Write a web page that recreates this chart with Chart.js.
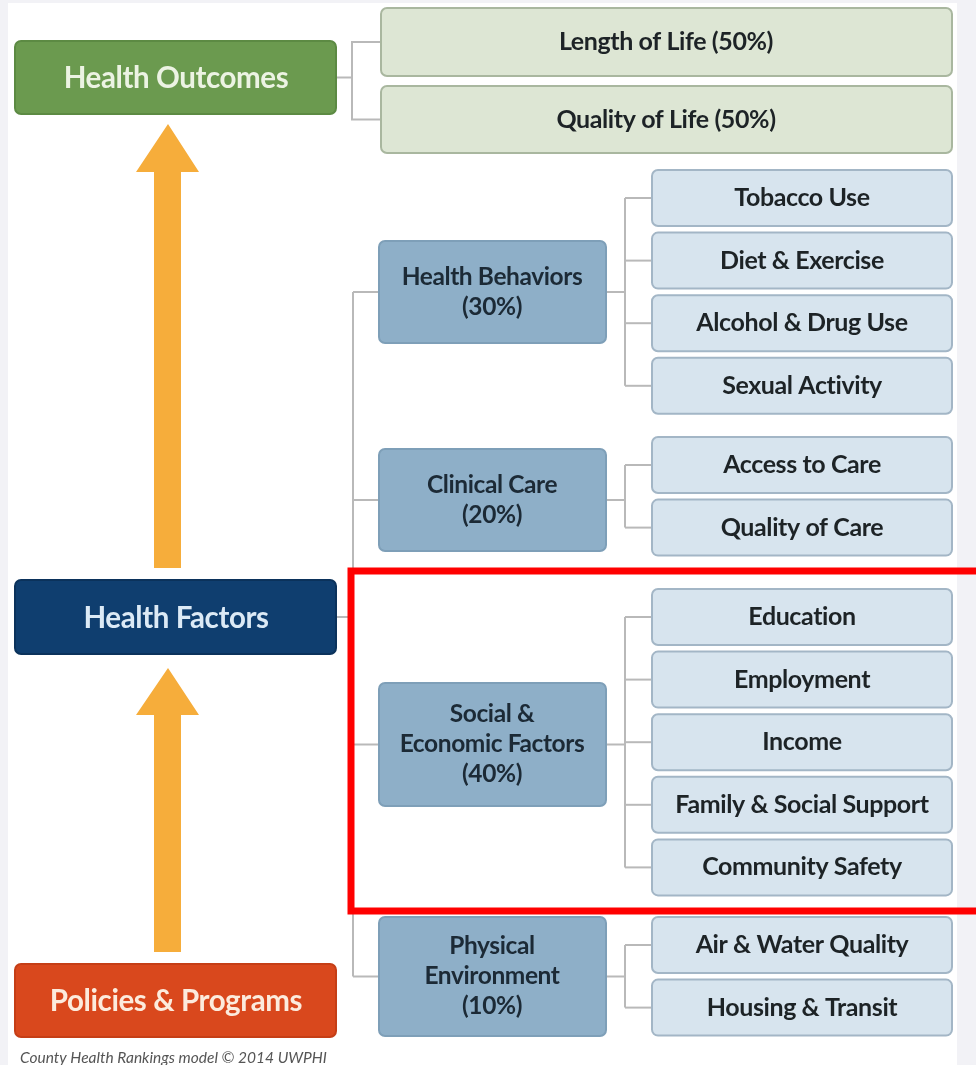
<!DOCTYPE html>
<html>
<head>
<meta charset="utf-8">
<script src="https://cdn.jsdelivr.net/npm/chart.js@4.4.1/dist/chart.umd.min.js"></script>
<style>
  html, body { margin: 0; padding: 0; background: #f2f2f6; }
  #wrap { width: 976px; height: 1065px; }
</style>
</head>
<body>
<div id="wrap"><canvas id="chart-1" width="976" height="1065"></canvas></div>
<script>
// MODEL DATA
const tiers = ['Health Outcomes', 'Health Factors', 'Policies & Programs'];

const outcomes = ['Length of Life', 'Quality of Life'];
const outcomeWeights = [50, 50];

const factors = [
  ['Health Behaviors'],
  ['Clinical Care'],
  ['Social &', 'Economic Factors'],
  ['Physical', 'Environment']
];
const factorWeights = [30, 20, 40, 10];

const behaviorItems = ['Tobacco Use', 'Diet & Exercise', 'Alcohol & Drug Use', 'Sexual Activity'];
const clinicalItems = ['Access to Care', 'Quality of Care'];
const socialItems = ['Education', 'Employment', 'Income', 'Family & Social Support', 'Community Safety'];
const environmentItems = ['Air & Water Quality', 'Housing & Transit'];

const footnote = 'County Health Rankings model \u00a9 2014 UWPHI';

// layout (diagram units == pixels of the 976x1065 frame)
const factorItems = [behaviorItems, clinicalItems, socialItems, environmentItems];
const tierY = [[41, 114], [580, 654], [964, 1037]];
const tierColors = [
  { fill: '#6b9a4f', stroke: '#5c8a43', text: '#ecf3e3' },
  { fill: '#0f3e6f', stroke: '#0b325b', text: '#dceaf6' },
  { fill: '#d9481d', stroke: '#c53e16', text: '#fcebdd' }
];
const outcomeY = [[8, 76], [86, 153]];
const factorY = [[241, 343], [449, 551], [683, 806], [917, 1036]];
const itemStart = [170, 437, 589, 917];
const itemPitch = 62.6;
const itemH = 56;

const FONT = 'Lato, "Open Sans", sans-serif';

function roundBox(ctx, x0, y0, x1, y1, r, fill, stroke) {
  ctx.beginPath();
  ctx.roundRect(x0, y0, x1 - x0, y1 - y0, r);
  ctx.fillStyle = fill;
  ctx.fill();
  if (stroke) {
    ctx.lineWidth = 2;
    ctx.strokeStyle = stroke;
    ctx.stroke();
  }
}

function label(ctx, lines, cx, cy, size, color, lh) {
  ctx.font = 'bold ' + size + 'px ' + FONT;
  ctx.fillStyle = color;
  ctx.textAlign = 'center';
  ctx.textBaseline = 'middle';
  ctx.letterSpacing = '-0.4px';
  const top = cy - (lines.length - 1) * lh / 2;
  lines.forEach((t, i) => ctx.fillText(t, cx, top + i * lh));
  ctx.letterSpacing = '0px';
}

const diagramPlugin = {
  id: 'diagram',
  beforeDraw(chart) {
    const ctx = chart.ctx;
    const sx = chart.scales.x, sy = chart.scales.y;
    const X = v => sx.getPixelForValue(v);
    const Y = v => sy.getPixelForValue(v);

    ctx.save();
    // page
    ctx.fillStyle = '#f2f2f6';
    ctx.fillRect(0, 0, chart.width, chart.height);
    ctx.fillStyle = '#ffffff';
    ctx.fillRect(X(8), Y(3), X(957) - X(8), Y(1065) - Y(3));

    // connectors
    ctx.strokeStyle = '#b9b9b9';
    ctx.lineWidth = 2;
    const line = pts => {
      ctx.beginPath();
      pts.forEach((p, i) => i ? ctx.lineTo(X(p[0]), Y(p[1])) : ctx.moveTo(X(p[0]), Y(p[1])));
      ctx.stroke();
    };
    const oc = outcomeY.map(r => (r[0] + r[1]) / 2);
    line([[336, (tierY[0][0] + tierY[0][1]) / 2], [352, (tierY[0][0] + tierY[0][1]) / 2]]);
    line([[381, oc[0]], [352, oc[0]], [352, oc[1]], [381, oc[1]]]);

    const fc = factorY.map(r => (r[0] + r[1]) / 2);
    line([[336, (tierY[1][0] + tierY[1][1]) / 2], [353, (tierY[1][0] + tierY[1][1]) / 2]]);
    line([[353, fc[0]], [353, fc[3]]]);
    fc.forEach(c => line([[353, c], [379, c]]));

    factorItems.forEach((items, g) => {
      const centers = items.map((_, i) => itemStart[g] + i * itemPitch + itemH / 2);
      line([[606, fc[g]], [625, fc[g]]]);
      line([[625, centers[0]], [625, centers[centers.length - 1]]]);
      centers.forEach(c => line([[625, c], [652, c]]));
    });

    // arrows
    ctx.fillStyle = '#f6ad3b';
    [[124, 172, 568], [668, 715, 952]].forEach(a => {
      ctx.beginPath();
      ctx.moveTo(X(168), Y(a[0]));
      ctx.lineTo(X(199), Y(a[1]));
      ctx.lineTo(X(181), Y(a[1]));
      ctx.lineTo(X(181), Y(a[2]));
      ctx.lineTo(X(154), Y(a[2]));
      ctx.lineTo(X(154), Y(a[1]));
      ctx.lineTo(X(136), Y(a[1]));
      ctx.closePath();
      ctx.fill();
    });

    // tier boxes
    tiers.forEach((t, i) => {
      const c = tierColors[i];
      roundBox(ctx, X(15), Y(tierY[i][0]), X(336), Y(tierY[i][1]), 6, c.fill, c.stroke);
      label(ctx, [t], X(176), Y((tierY[i][0] + tierY[i][1]) / 2) + 1, 29.5, c.text, 30);
    });

    // outcome boxes
    outcomes.forEach((o, i) => {
      roundBox(ctx, X(381), Y(outcomeY[i][0]), X(952), Y(outcomeY[i][1]), 6, '#dde6d4', '#a9b79f');
      label(ctx, [o + ' (' + outcomeWeights[i] + '%)'], X(666), Y(oc[i]), 25, '#1d2326', 30);
    });

    // factor boxes
    factors.forEach((f, i) => {
      roundBox(ctx, X(379), Y(factorY[i][0]), X(606), Y(factorY[i][1]), 6, '#8eafc8', '#7e9fb8');
      label(ctx, f.concat('(' + factorWeights[i] + '%)'), X(492), Y(fc[i]), 24.5, '#1c2a36', 30);
    });

    // item boxes
    factorItems.forEach((items, g) => {
      items.forEach((t, i) => {
        const y0 = itemStart[g] + i * itemPitch;
        roundBox(ctx, X(652), Y(y0), X(952), Y(y0 + itemH), 6, '#d7e4ee', '#a3b6c6');
        label(ctx, [t], X(802), Y(y0 + itemH / 2), 25, '#1d2326', 30);
      });
    });

    // footnote
    ctx.font = 'italic 15.5px ' + FONT;
    ctx.fillStyle = '#555555';
    ctx.textAlign = 'left';
    ctx.textBaseline = 'alphabetic';
    ctx.fillText(footnote, X(20), Y(1063));

    // highlight frame
    ctx.strokeStyle = '#ff0000';
    ctx.lineWidth = 7;
    ctx.strokeRect(X(351), Y(571), X(990) - X(351), Y(911) - Y(571));
    ctx.restore();
  }
};

const config = {
  type: 'scatter',
  data: { datasets: [{ data: [], pointRadius: 0 }] },
  options: {
    responsive: false,
    animation: false,
    layout: { padding: 0 },
    plugins: { legend: { display: false }, tooltip: { enabled: false } },
    scales: {
      x: { type: 'linear', min: 0, max: 976, display: false },
      y: { type: 'linear', min: 0, max: 1065, reverse: true, display: false }
    }
  },
  plugins: [diagramPlugin]
};

document.fonts.load('bold 21px Lato').then(() => {
  const ctx = document.getElementById('chart-1').getContext('2d');
  const myChart = new Chart(ctx, config);
});
</script>
</body>
</html>
